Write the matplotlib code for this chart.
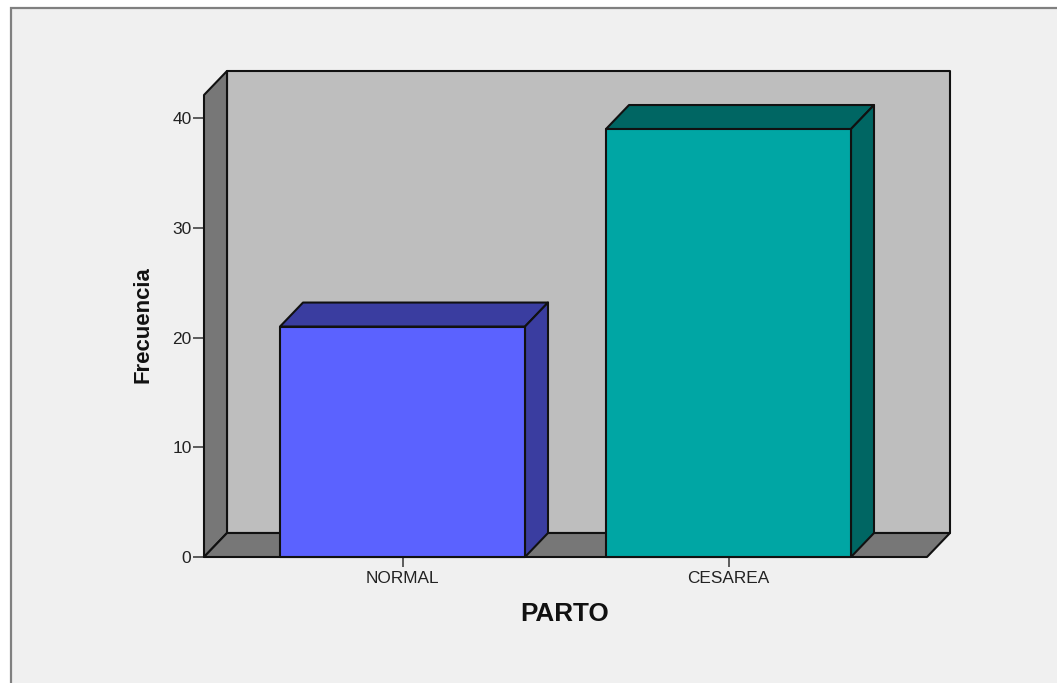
"""
plot.py — 3D-look bar chart of PARTO frequencies. Writes out.png.
"""

import matplotlib
matplotlib.use("Agg")
import matplotlib.pyplot as plt
from matplotlib.patches import Polygon, Rectangle

W, H = 1057, 683

categories = ["NORMAL", "CESAREA"]
values = [21, 39]
y_ticks = [0, 10, 20, 30, 40]
y_top = 42.1

FACE = {"NORMAL": "#5b62ff", "CESAREA": "#00a6a4"}
SHADE = {"NORMAL": "#3a3da0", "CESAREA": "#006663"}
EDGE = "#111111"

plt.rcParams["font.family"] = ["Liberation Sans", "DejaVu Sans"]

fig = plt.figure(figsize=(W / 100, H / 100), dpi=100, facecolor="white")
# zorder below the axes, figure artists otherwise paint over them
fig.add_artist(Rectangle((10.5 / W, -0.01), 1.1, (H - 8) / H + 0.01,
                         transform=fig.transFigure, fc="#f0f0f0", ec="#808080",
                         lw=1.6, zorder=-1))

# front plane of the chart, in pixels: x 204-927, y 95-557
ax = fig.add_axes([204 / W, (H - 557) / H, (927 - 204) / W, (557 - 95) / H])
ax.patch.set_visible(False)
px_x = 326.0  # pixels per category
ax.set_xlim(-198.5 / px_x, 524.5 / px_x)
ax.set_ylim(0, y_top)
bar_w = 245 / px_x
dx = 23 / px_x
dy = 24 / (462 / y_top)
x0, x1 = ax.get_xlim()


def poly(pts, fc, z=2):
    ax.add_patch(Polygon(pts, closed=True, fc=fc, ec=EDGE, lw=1.5,
                         joinstyle="round", clip_on=False, zorder=z))


# walls and floor
poly([(x0 + dx, dy), (x1 + dx, dy), (x1 + dx, y_top + dy), (x0 + dx, y_top + dy)], "#bebebe")
poly([(x0, 0), (x0 + dx, dy), (x0 + dx, y_top + dy), (x0, y_top)], "#777777")
poly([(x0, 0), (x1, 0), (x1 + dx, dy), (x0 + dx, dy)], "#777777")

# bars
for i, (cat, val) in enumerate(zip(categories, values)):
    l, r = i - bar_w / 2, i + bar_w / 2
    poly([(l, val), (r, val), (r + dx, val + dy), (l + dx, val + dy)], SHADE[cat], 3)
    poly([(r, 0), (r + dx, dy), (r + dx, val + dy), (r, val)], SHADE[cat], 3)
    poly([(l, 0), (r, 0), (r, val), (l, val)], FACE[cat], 4)

for s in ax.spines.values():
    s.set_visible(False)

ax.set_xticks(range(len(categories)), categories)
ax.set_yticks(y_ticks)
ax.tick_params(axis="x", length=7.5, width=1.1, color="#333333", labelsize=12.4,
               labelcolor="#222222", pad=2.5)
ax.tick_params(axis="y", length=8, width=1.1, color="#333333", labelsize=12.5,
               labelcolor="#222222", pad=1)

fig.text(565 / W, 1 - 614 / H, "PARTO", fontsize=18.8, fontweight="bold",
         ha="center", va="center", color="#111111")
fig.text(143 / W, 1 - 324.5 / H, "Frecuencia", fontsize=15.9, fontweight="bold",
         rotation=90, ha="center", va="center", color="#111111")

fig.savefig("out.png", dpi=100, facecolor=fig.get_facecolor())
